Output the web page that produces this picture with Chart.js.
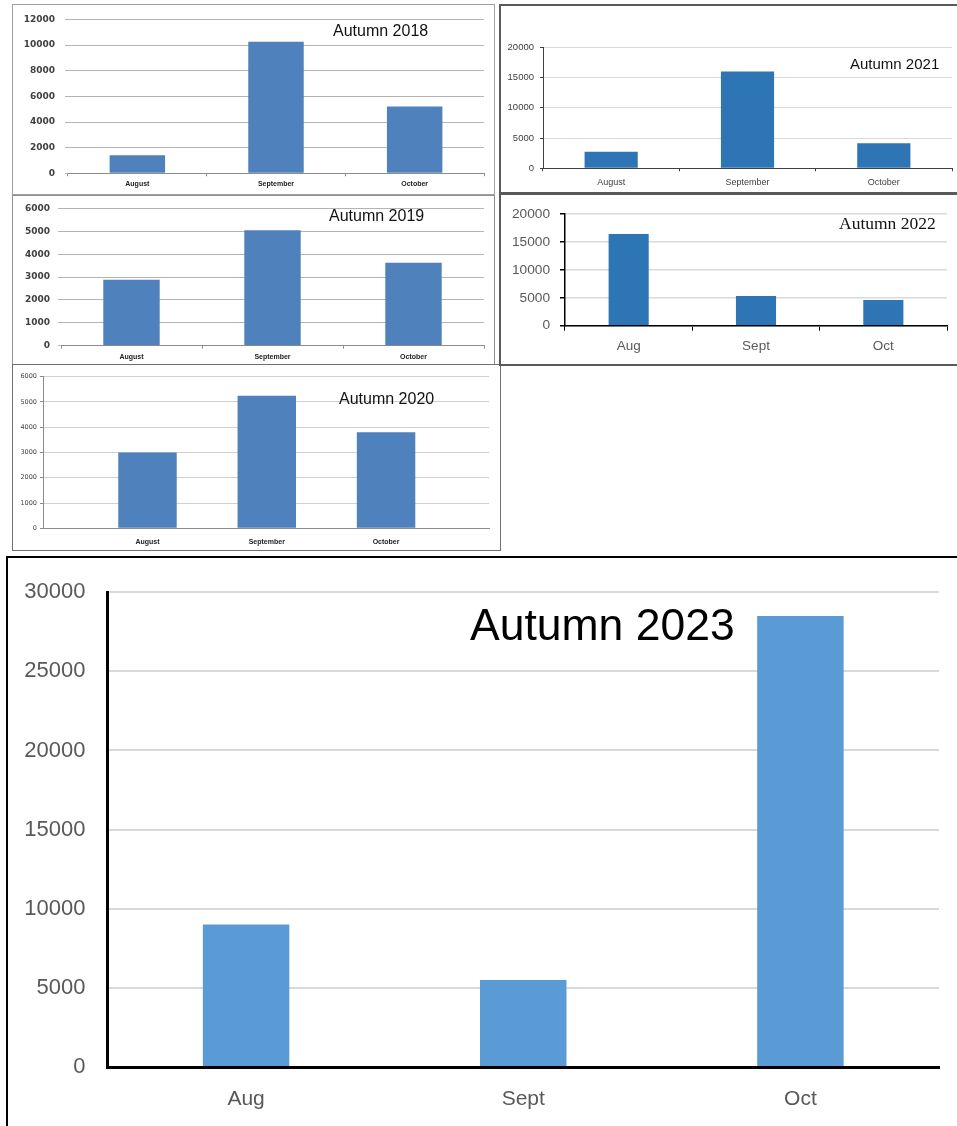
<!DOCTYPE html>
<html>
<head>
<meta charset="utf-8">
<script src="https://cdn.jsdelivr.net/npm/chart.js@4.4.0/dist/chart.umd.min.js"></script>
<style>
html, body { margin: 0; padding: 0; background: #fff; }
body { width: 957px; height: 1126px; position: relative; overflow: hidden; font-family: "Liberation Sans", Arial, sans-serif; }
.box { position: absolute; box-sizing: border-box; }
.wrap { position: absolute; }
.title { position: absolute; white-space: nowrap; line-height: 1; transform: translateY(-50%); color: #111; }
</style>
</head>
<body>

<div class="box" style="left:12px;top:4px;width:483px;height:191px;border:1px solid #a0a0a0;"></div>
<div class="box" style="left:12px;top:195px;width:483px;height:170px;border:1px solid #909090;"></div>
<div class="box" style="left:12px;top:364px;width:489px;height:187px;border:1.5px solid #707070;"></div>
<div class="box" style="left:499px;top:4px;width:480px;height:190px;border:2px solid #595959;"></div>
<div class="box" style="left:499px;top:193px;width:480px;height:173px;border:2px solid #595959;"></div>
<div class="box" style="left:6px;top:556px;width:980px;height:600px;border:2.5px solid #000;"></div>

<div class="wrap" style="left:12px;top:4px;"><canvas id="c2018" width="483" height="191"></canvas></div>
<div class="wrap" style="left:13px;top:195px;"><canvas id="c2019" width="481" height="170"></canvas></div>
<div class="wrap" style="left:13px;top:365px;"><canvas id="c2020" width="487" height="185"></canvas></div>
<div class="wrap" style="left:499px;top:4px;"><canvas id="c2021" width="458" height="189"></canvas></div>
<div class="wrap" style="left:499px;top:194px;"><canvas id="c2022" width="458" height="171"></canvas></div>
<div class="wrap" style="left:7px;top:557px;"><canvas id="c2023" width="950" height="569"></canvas></div>

<div class="title" style="left:333px;top:31px;font-size:16px;">Autumn 2018</div>
<div class="title" style="left:329px;top:216px;font-size:16px;">Autumn 2019</div>
<div class="title" style="left:339px;top:399px;font-size:16px;">Autumn 2020</div>
<div class="title" style="left:850px;top:63px;font-size:15px;">Autumn 2021</div>
<div class="title" style="left:839px;top:224px;font-size:17.5px;font-family:'Liberation Serif','Times New Roman',serif;">Autumn 2022</div>
<div class="title" style="left:470px;top:625px;font-size:44.5px;color:#000;">Autumn 2023</div>

<script>
// Monthly totals, one small chart per autumn
const monthsLong = ['August', 'September', 'October'];
const monthsShort = ['Aug', 'Sept', 'Oct'];

const visits2018 = [1400, 10250, 5200];
const visits2019 = [2880, 5040, 3620];
const visits2020 = [3000, 5250, 3800];
const visits2021 = [2750, 16000, 4150];
const visits2022 = [16400, 5300, 4600];
const visits2023 = [9000, 5500, 28500];

// y axis range per chart: [max, step]
const yRange2018 = [12000, 2000];
const yRange2019 = [6000, 1000];
const yRange2020 = [6000, 1000];
const yRange2021 = [20000, 5000];
const yRange2022 = [20000, 5000];
const yRange2023 = [30000, 5000];

// plain numbers, no thousands separator
var plainTick = function (v) { return String(v); };

makeBarChart = function (id, labels, values, range, o) {
  var ctx = document.getElementById(id).getContext('2d');
  return new Chart(ctx, {
    type: 'bar',
    data: {
      labels: labels,
      datasets: [{
        data: values,
        backgroundColor: o.colour,
        borderWidth: 0,
        categoryPercentage: 1,
        barPercentage: o.bar
      }]
    },
    options: {
      responsive: false,
      animation: false,
      events: [],
      layout: { padding: o.pad },
      plugins: { legend: { display: false }, tooltip: { enabled: false } },
      scales: {
        x: {
          grid: { display: o.xTicks > 0, drawOnChartArea: false, drawTicks: o.xTicks > 0, tickLength: o.xTicks, tickColor: o.axis, tickWidth: 1, offset: true },
          border: { display: true, color: o.axis, width: o.axisWidth },
          ticks: { font: o.xFont, color: o.xColour, padding: o.xPad, maxRotation: 0, autoSkip: false },
          afterFit: function (s) { s.height = o.xH; }
        },
        y: {
          min: 0,
          max: range[0],
          grid: { color: o.grid, lineWidth: o.gridWidth, drawTicks: o.yTicks > 0, tickLength: o.yTicks, tickColor: o.yTickColour || o.grid },
          border: { display: o.yAxis, color: o.axis, width: o.axisWidth },
          ticks: { stepSize: range[1], font: o.yFont, color: o.yColour, padding: o.yPad, callback: plainTick },
          afterFit: function (s) { s.width = o.yW; }
        }
      }
    }
  });
}

var oldFontY = { family: 'DejaVu Sans', size: 9, weight: 'bold' };
var oldFontX = { family: 'Liberation Sans', size: 7, weight: 'bold' };

makeBarChart('c2018', monthsLong, visits2018, yRange2018, {
  colour: '#4F81BD', bar: 0.4,
  pad: { left: 0, top: 11, right: 11, bottom: 0 }, yW: 56, xH: 21.7,
  axis: '#8c8c8c', axisWidth: 1, yAxis: false,
  grid: '#b4b4b4', gridWidth: 1, yTicks: 3, yPad: 10,
  xTicks: 3, xPad: 3.5,
  xFont: oldFontX, xColour: '#222', yFont: oldFontY, yColour: '#404040'
});

makeBarChart('c2019', monthsLong, visits2019, yRange2019, {
  colour: '#4F81BD', bar: 0.4,
  pad: { left: 0, top: 9, right: 10, bottom: 0 }, yW: 48, xH: 19.3,
  axis: '#8c8c8c', axisWidth: 1, yAxis: false,
  grid: '#b4b4b4', gridWidth: 1, yTicks: 3, yPad: 8,
  xTicks: 3, xPad: 3.8,
  xFont: oldFontX, xColour: '#222', yFont: oldFontY, yColour: '#404040'
});

makeBarChart('c2021', monthsLong, visits2021, yRange2021, {
  colour: '#2E75B6', bar: 0.39,
  pad: { left: 0, top: 43.3, right: 5, bottom: 0 }, yW: 44, xH: 24.7,
  axis: '#404040', axisWidth: 1, yAxis: true,
  grid: '#d9d9d9', gridWidth: 1, yTicks: 3, yTickColour: '#404040', yPad: 6,
  xTicks: 3, xPad: 5.6,
  xFont: { family: 'Liberation Sans', size: 9 }, xColour: '#404040',
  yFont: { family: 'Liberation Sans', size: 9.5 }, yColour: '#404040'
});

makeBarChart('c2022', monthsShort, visits2022, yRange2022, {
  colour: '#2E75B6', bar: 0.315,
  pad: { left: 0, top: 20, right: 10, bottom: 0 }, yW: 66, xH: 39.3,
  axis: '#000', axisWidth: 1.5, yAxis: true,
  grid: '#d9d9d9', gridWidth: 1.5, yTicks: 5, yTickColour: '#000', yPad: 10,
  xTicks: 5, xPad: 7,
  xFont: { family: 'Liberation Sans', size: 13.5 }, xColour: '#595959',
  yFont: { family: 'Liberation Sans', size: 13.7 }, yColour: '#595959'
});

makeBarChart('c2023', monthsShort, visits2023, yRange2023, {
  colour: '#5B9BD5', bar: 0.312,
  pad: { left: 0, top: 25, right: 18, bottom: 0 }, yW: 100.5, xH: 59,
  axis: '#000', axisWidth: 3, yAxis: true,
  grid: '#d9d9d9', gridWidth: 2, yTicks: 0, yPad: 22,
  xTicks: 0, xPad: 19.4,
  xFont: { family: 'Liberation Sans', size: 21 }, xColour: '#595959',
  yFont: { family: 'Liberation Sans', size: 22 }, yColour: '#595959'
});

// 2020: the months sit off the usual category grid, so use a linear index axis
var ctx2020 = document.getElementById('c2020').getContext('2d');
new Chart(ctx2020, {
  type: 'bar',
  data: {
    datasets: [{
      data: visits2020.map(function (v, i) { return { x: i + 1, y: v }; }),
      backgroundColor: '#4F81BD',
      borderWidth: 0,
      categoryPercentage: 1,
      barPercentage: 0.49
    }]
  },
  options: {
    responsive: false,
    animation: false,
    events: [],
    layout: { padding: { left: 0, top: 11.7, right: 11, bottom: 0 } },
    plugins: { legend: { display: false }, tooltip: { enabled: false } },
    scales: {
      x: {
        type: 'linear',
        offset: false,
        min: 0.124,
        max: 3.863,
        grid: { display: false, drawTicks: false, tickLength: 0 },
        border: { display: true, color: '#8c8c8c', width: 1 },
        ticks: {
          stepSize: 1,
          includeBounds: false,
          font: { family: 'Liberation Sans', size: 7, weight: 'bold' },
          color: '#222',
          padding: 10,
          maxRotation: 0,
          callback: function (v) { return monthsLong[v - 1] || ''; }
        },
        afterFit: function (s) { s.height = 21.7; }
      },
      y: {
        min: 0,
        max: yRange2020[0],
        grid: { color: '#d0d0d0', lineWidth: 1, drawTicks: true, tickLength: 3, tickColor: '#8c8c8c' },
        border: { display: true, color: '#8c8c8c', width: 1 },
        ticks: { stepSize: yRange2020[1], font: { family: 'DejaVu Sans', size: 6.5 }, color: '#444', padding: 3, callback: plainTick },
        afterFit: function (s) { s.width = 30; }
      }
    }
  }
});
</script>
</body>
</html>
